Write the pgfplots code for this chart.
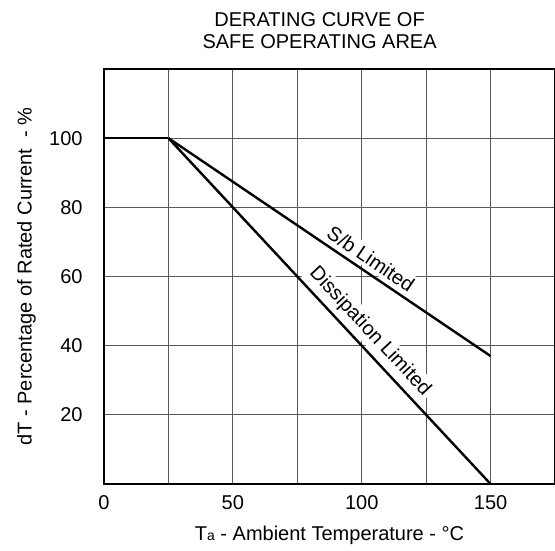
\documentclass[border=0pt]{standalone}
\usepackage{fontspec}
\setmainfont{Liberation Sans}
\usepackage{pgfplots}
\pgfplotsset{compat=1.18}
\usetikzlibrary{calc}
\begin{document}
\begin{tikzpicture}
\begin{axis}[
  name=ax,
  scale only axis,
  width=225.5pt, height=207.5pt,
  xmin=0, xmax=175, ymin=0, ymax=120,
  xtick={0,25,...,150},
  xticklabels={0,,50,,100,,150},
  ytick={20,40,...,100},
  major tick length=0pt,
  grid=major,
  major grid style={black!65, line width=0.5pt},
  axis line style={line width=1pt},
  /pgf/number format/assume math mode=true,
  tick label style={font=\fontsize{10}{12}\selectfont},
  xticklabel style={anchor=north, inner sep=0pt, yshift=-5.5pt},
  yticklabel style={anchor=east, inner sep=0pt, xshift=-10.5pt},
  xlabel={T{\fontsize{7}{8}\selectfont a} - Ambient Temperature - °C},
  ylabel={dT - Percentage of Rated Current\ \ - \%},
  label style={font=\fontsize{10}{12}\selectfont},
  xlabel style={at={(axis description cs:0.5,0)}, anchor=center, yshift=-25.5pt},
  ylabel style={at={(axis description cs:-0.172,0.5)}, anchor=center},
  clip=false,
]
\addplot[black, line width=1.2pt] coordinates {(0,100) (25,100)};
\addplot[black, line width=1.2pt] coordinates {(25,100) (150,37)}
  node[pos=0.605, sloped, above, fill=white, inner sep=1.5pt, yshift=1pt,
       font=\fontsize{10}{12}\selectfont] {S/b Limited};
\addplot[black, line width=1.2pt] coordinates {(25,100) (150,0)}
  node[pos=0.59, sloped, above, fill=white, inner sep=1.5pt, yshift=1pt,
       font=\fontsize{10}{12}\selectfont] {Dissipation Limited};
\node[anchor=south, align=center, inner sep=0pt, yshift=10pt,
      font=\fontsize{10}{11}\selectfont] at (rel axis cs:0.478,1)
  {DERATING CURVE OF\\SAFE OPERATING AREA};
\end{axis}
\pgfresetboundingbox
\path ($(ax.south west)+(-52pt,-33pt)$) rectangle ($(ax.north east)+(0pt,34.5pt)$);
\end{tikzpicture}
\end{document}
